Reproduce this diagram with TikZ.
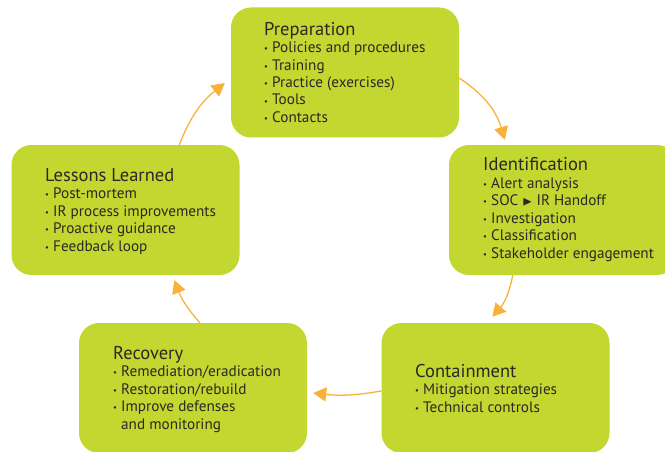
\documentclass[tikz,border=0pt]{standalone}
\usepackage{amssymb}
\usepackage{fontspec}
\setmainfont{PT Sans}
\usetikzlibrary{arrows.meta, calc}
\definecolor{phase}{HTML}{C2D730}
\definecolor{flow}{HTML}{F9B13A}
\definecolor{ink}{HTML}{2A2826}
\newcommand{\bul}{\makebox[8pt][l]{\raisebox{0.9pt}{\fontsize{8.5}{8.5}\selectfont\textbullet}}}
\newcommand{\phasetitle}[1]{{\fontsize{18.5}{17.5}\selectfont #1}}

\begin{document}
\begin{tikzpicture}[x=1pt, y=1pt,
  phasebox/.style={fill=phase, rounded corners=20pt, minimum width=228pt, minimum height=130pt, inner sep=0pt},
  phasetext/.style={anchor=base west, align=left, inner sep=0pt, text=ink, font=\fontsize{15.2}{17.5}\selectfont},
  flowarrow/.style={-{Triangle[length=13pt, width=14pt]}, line width=1.3pt, draw=flow}]
  \clip (0,0) rectangle (665,451);

  % Boxes
  \node[phasebox] (prep) at (345,378.5) {};
  \node[phasebox] (ident) at (563,241) {};
  \node[phasebox] (contain) at (495.5,63) {};
  \node[phasebox] (recov) at (193,63) {};
  \node[phasebox] (lessons) at (125.5,241) {};

  % Texts (placed at the baseline of the last line)
  \node[phasetext] (prep-txt) at (264,328.5) {\phasetitle{Preparation}\\
    \bul Policies and procedures\\ \bul Training\\ \bul Practice (exercises)\\
    \bul Tools\\ \bul Contacts};
  \node[phasetext] (ident-txt) at (483,193) {\phasetitle{Identification}\\
    \bul Alert analysis\\ \bul SOC {\fontsize{13}{13}\selectfont\raisebox{0.3pt}{$\blacktriangleright$}} IR Handoff\\
    \bul Investigation\\ \bul Classification\\ \bul Stakeholder engagement};
  \node[phasetext] (contain-txt) at (415,39) {\phasetitle{Containment}\\
    \bul Mitigation strategies\\ \bul Technical controls};
  \node[phasetext] (recov-txt) at (113,22) {\phasetitle{Recovery}\\
    \bul Remediation/eradication\\ \bul Restoration/rebuild\\
    \bul Improve defenses\\ \hspace*{8pt}and monitoring};
  \node[phasetext] (lessons-txt) at (45,200) {\phasetitle{Lessons Learned}\\
    \bul Post-mortem\\ \bul IR process improvements\\ \bul Proactive guidance\\
    \bul Feedback loop};

  % Cycle arrows
  \coordinate (a1s) at ($(prep.east)+(0,-5.5)$);
  \coordinate (a1e) at ($(ident.north west)+(56,5)$);
  \coordinate (a2s) at ($(ident.south west)+(64,0)$);
  \coordinate (a2e) at ($(contain.north west)+(111,6)$);
  \coordinate (a3s) at ($(contain.west)+(0,-3)$);
  \coordinate (a3e) at ($(recov.east)+(6,-5)$);
  \coordinate (a4s) at ($(recov.north west)+(121,0)$);
  \coordinate (a4e) at ($(lessons.south west)+(163,-5)$);
  \coordinate (a5s) at ($(lessons.north west)+(168,0)$);
  \coordinate (a5e) at ($(prep.west)+(-6,-10.5)$);
  \draw[flowarrow] (a1s) to[bend left=20] (a1e);
  \draw[flowarrow] (a2s) to[bend left=15] (a2e);
  \draw[flowarrow] (a3s) to[bend left=8] (a3e);
  \draw[flowarrow] (a4s) to[bend left=10] (a4e);
  \draw[flowarrow] (a5s) to[bend left=15] (a5e);
\end{tikzpicture}
\end{document}
